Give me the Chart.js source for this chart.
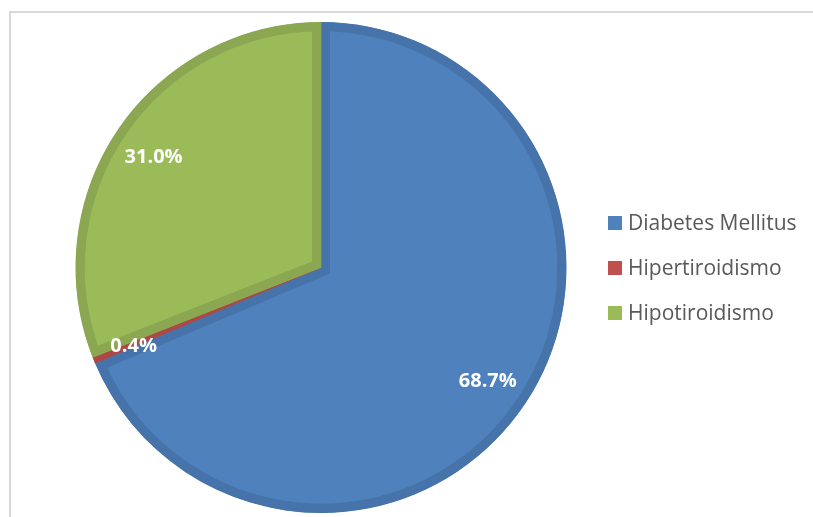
<!DOCTYPE html>
<html>
<head>
<meta charset="utf-8">
<script src="https://cdn.jsdelivr.net/npm/chart.js@4.4.1/dist/chart.umd.min.js"></script>
<style>
  html, body { margin: 0; padding: 0; background: #fff; }
  canvas { display: block; }
</style>
</head>
<body>
<canvas id="chart-pie" width="813" height="517"></canvas>
<script>
const categories = ['Diabetes Mellitus', 'Hipertiroidismo', 'Hipotiroidismo'];
const percentages = [68.7, 0.4, 31.0];
const fillColors = ['#4F81BD', '#C0504D', '#9BBB59'];
const edgeColors = ['#4673AA', '#AC4845', '#8BA752'];

// light frame on the left and top edges
const framePlugin = {
  id: 'frame',
  beforeDraw(chart) {
    const ctx = chart.ctx;
    ctx.save();
    ctx.strokeStyle = '#d9d9d9';
    ctx.lineWidth = 2;
    ctx.beginPath();
    ctx.moveTo(10, chart.height);
    ctx.lineTo(10, 12);
    ctx.lineTo(chart.width, 12);
    ctx.stroke();
    ctx.restore();
  }
};

// percent labels inside each slice
const sliceLabels = {
  id: 'sliceLabels',
  afterDatasetsDraw(chart) {
    const ctx = chart.ctx;
    const meta = chart.getDatasetMeta(0);
    ctx.save();
    ctx.fillStyle = '#ffffff';
    ctx.font = 'bold 20px "Open Sans"';
    ctx.textAlign = 'center';
    ctx.textBaseline = 'middle';
    meta.data.forEach((arc, i) => {
      const p = arc.getProps(['x', 'y', 'startAngle', 'endAngle', 'outerRadius'], true);
      const mid = (p.startAngle + p.endAngle) / 2;
      const r = p.outerRadius * 0.82;
      const text = percentages[i].toFixed(1) + '%';
      ctx.fillText(text, p.x + Math.cos(mid) * r - 1, p.y + Math.sin(mid) * r + 3);
    });
    ctx.restore();
  }
};

// legend drawn to the right of the pie
const sideLegend = {
  id: 'sideLegend',
  afterDraw(chart) {
    const ctx = chart.ctx;
    const left = chart.chartArea.right + 41;
    const top = 223;
    const step = 45;
    ctx.save();
    ctx.font = '21px "Open Sans"';
    ctx.textBaseline = 'middle';
    categories.forEach((name, i) => {
      const y = top + i * step;
      ctx.fillStyle = fillColors[i];
      ctx.fillRect(left, y - 7, 14, 14);
      ctx.fillStyle = '#595959';
      ctx.fillText(name, left + 20, y + 1);
    });
    ctx.restore();
  }
};

new Chart(document.getElementById('chart-pie'), {
  type: 'pie',
  data: {
    labels: categories,
    datasets: [{
      data: percentages,
      backgroundColor: fillColors,
      borderColor: edgeColors,
      borderWidth: 9,
      borderAlign: 'inner',
      borderJoinStyle: 'miter'
    }]
  },
  options: {
    responsive: false,
    animation: false,
    devicePixelRatio: 1,
    layout: { padding: { left: 75, right: 246, top: 22, bottom: 4 } },
    plugins: {
      legend: { display: false },
      tooltip: { enabled: false }
    }
  },
  plugins: [framePlugin, sliceLabels, sideLegend]
});
</script>
</body>
</html>
